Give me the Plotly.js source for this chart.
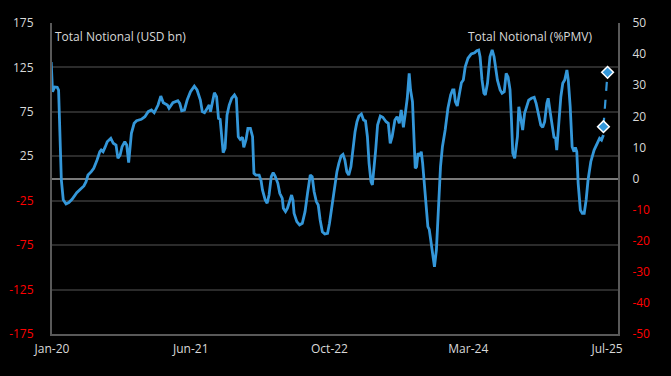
<!DOCTYPE html>
<html>
<head>
<meta charset="utf-8">
<script src="https://cdn.plot.ly/plotly-3.0.1.min.js"></script>
<style>html,body{margin:0;padding:0;background:#000;}#chart{width:671px;height:376px;}</style>
</head>
<body>
<div id="chart"></div>
<script>
// Total Notional (USD bn), weekly-ish readings
const dates = [
"2020-01-12","2020-01-17","2020-01-25","2020-02-03","2020-02-08","2020-02-13","2020-02-18","2020-02-25",
"2020-03-06","2020-03-16","2020-03-28","2020-04-14","2020-04-30","2020-05-10","2020-05-18","2020-05-25",
"2020-06-06","2020-06-15","2020-06-27","2020-07-07","2020-07-12","2020-07-19","2020-07-27","2020-08-03",
"2020-08-16","2020-08-25","2020-09-04","2020-09-11","2020-09-19","2020-09-26","2020-10-06","2020-10-13",
"2020-10-20","2020-10-25","2020-10-30","2020-11-09","2020-11-18","2020-12-05","2020-12-18","2020-12-30",
"2021-01-11","2021-01-21","2021-02-04","2021-02-14","2021-02-23","2021-03-10","2021-03-16","2021-03-30",
"2021-04-17","2021-04-24","2021-05-01","2021-05-11","2021-05-21","2021-06-02","2021-06-16","2021-06-26",
"2021-07-01","2021-07-08","2021-07-15","2021-07-23","2021-08-02","2021-08-09","2021-08-14","2021-08-21",
"2021-08-28","2021-09-05","2021-09-12","2021-09-18","2021-09-24","2021-09-29","2021-10-06","2021-10-13",
"2021-10-21","2021-10-30","2021-11-09","2021-11-16","2021-11-23","2021-11-30","2021-12-08","2021-12-13",
"2021-12-21","2021-12-28","2022-01-06","2022-01-14","2022-01-19","2022-01-26","2022-02-07","2022-02-14",
"2022-02-19","2022-03-01","2022-03-08","2022-03-15","2022-03-23","2022-03-30","2022-04-06","2022-04-16",
"2022-04-23","2022-05-02","2022-05-06","2022-05-14","2022-05-21","2022-05-28","2022-06-05","2022-06-10",
"2022-06-14","2022-06-24","2022-07-04","2022-07-14","2022-07-24","2022-08-02","2022-08-12","2022-08-19",
"2022-08-26","2022-09-03","2022-09-10","2022-09-17","2022-09-25","2022-10-04","2022-10-14","2022-10-21",
"2022-10-31","2022-11-09","2022-11-17","2022-11-24","2022-12-02","2022-12-09","2022-12-16","2022-12-23",
"2022-12-30","2023-01-07","2023-01-14","2023-01-22","2023-01-29","2023-02-05","2023-02-14","2023-02-22",
"2023-03-01","2023-03-08","2023-03-14","2023-03-21","2023-03-26","2023-03-30","2023-04-07","2023-04-14",
"2023-04-24","2023-05-03","2023-05-15","2023-05-23","2023-05-30","2023-06-06","2023-06-16","2023-06-24",
"2023-07-02","2023-07-09","2023-07-17","2023-07-24","2023-07-31","2023-08-07","2023-08-12","2023-08-19",
"2023-08-24","2023-08-29","2023-09-03","2023-09-08","2023-09-15","2023-09-20","2023-09-25","2023-09-30",
"2023-10-07","2023-10-14","2023-10-19","2023-10-26","2023-11-01","2023-11-07","2023-11-14","2023-11-22",
"2023-11-29","2023-12-06","2023-12-16","2023-12-26","2024-01-05","2024-01-12","2024-01-17","2024-01-22",
"2024-01-29","2024-02-05","2024-02-13","2024-02-20","2024-02-27","2024-03-08","2024-03-20","2024-04-01",
"2024-04-09","2024-04-16","2024-04-21","2024-04-28","2024-05-05","2024-05-10","2024-05-18","2024-05-27",
"2024-06-04","2024-06-11","2024-06-16","2024-06-23","2024-07-03","2024-07-10","2024-07-18","2024-07-25",
"2024-08-01","2024-08-08","2024-08-13","2024-08-18","2024-08-25","2024-09-04","2024-09-09","2024-09-16",
"2024-09-23","2024-09-30","2024-10-15","2024-10-25","2024-11-04","2024-11-11","2024-11-18","2024-11-28",
"2024-12-05","2024-12-12","2024-12-20","2024-12-25","2025-01-01","2025-01-08","2025-01-15","2025-01-21",
"2025-01-25","2025-02-02","2025-02-09","2025-02-16","2025-02-23","2025-03-03","2025-03-08","2025-03-15",
"2025-03-22","2025-03-29","2025-04-03","2025-04-08","2025-04-13","2025-04-21","2025-04-28","2025-05-05",
"2025-05-12","2025-05-19","2025-05-29","2025-06-10","2025-06-20","2025-06-30","2025-07-07","2025-07-14"
];
const notional = [
131,97.7,103,102.6,99.6,43,-1.7,-24,
-28.7,-27,-23.4,-16,-11,-8.4,-3.6,4,
7.7,11.5,20.8,30.2,32,30.2,35.8,41.4,
45.2,39.6,37.7,22.7,26.4,35.8,41.4,37.7,
17.8,32,50.9,62.1,65,66.6,69.6,75.2,
77.1,74,82.7,92.8,85.3,82.7,79,85.3,
87.6,84.6,76.3,77.1,88.3,97.7,104,99.6,
94,88.3,75.2,74,79,82.7,75.2,86.4,
96.6,92,67.7,66.6,39.6,29,34,71.5,
82.7,90.3,94,90.3,47,44.1,46.4,35.1,
43.3,56.5,56.5,47,5.9,3.9,3.9,-2.5,
-12.9,-24.2,-27.9,-18.6,2,6.5,2.8,-5.4,
-16.7,-22.3,-33.5,-37.3,-33.5,-26,-18.6,-24.2,
-39.2,-48.6,-52.3,-50.4,-37.3,-16.7,3.9,2,
-14.9,-26,-29.8,-46.7,-59.9,-62.5,-61.7,-50.4,
-27.9,-5.4,7.7,17.1,25.3,27.2,20.8,7.7,
3.9,13.3,34,52.7,63.9,70.3,72.6,65.8,
64.7,47,17.1,-3.6,-7.3,3.9,32,60.2,
70.3,68.9,63.9,62.1,39.6,47,65.8,69.6,
62.1,77.1,57.6,73.4,90.3,118.4,99.6,86.4,
50.9,11.5,13.3,28.4,25.3,30.2,17.1,-1.7,
-27.9,-54.2,-57.2,-72.9,-91.7,-99.3,-80.5,-31.7,
13.3,35.8,54.6,79,94,99.6,99.6,86.4,
81.6,94,107.8,110.9,125.8,135.3,140.1,141.6,
143.8,144.6,137.1,110.9,95.9,94,107.1,137.1,
144.6,137.1,127.7,110.9,99.6,95.9,97.7,118.4,
114,100,68,28.4,22.7,47,80.8,69.6,
54.6,73.4,88.3,90.3,91.4,84.6,73.4,60.2,
57.6,63.9,84.6,90.3,75.2,58.3,46.4,45.2,
32,63.9,92,107.1,110.9,122.1,110.9,80.8,
35.8,30.2,35.1,30.2,-5.4,-35.4,-39.2,-39.2,
-24.2,-1.7,18.9,32,39.6,45.2,43.3,49,58.3
];
// Latest reading and projection (diamonds, dashed)
const projDates = ["2025-07-14","2025-07-29"];
const projValues = [58.3, 119.5];

const xTickVals = ["2020-01-15","2021-06-03","2022-10-21","2024-03-09","2025-07-27"];
const xTickText = ["Jan-20","Jun-21","Oct-22","Mar-24","Jul-25"];
const yTickVals = [-175,-125,-75,-25,25,75,125,175];
const y2TickVals = [-50,-40,-30,-20,-10,0,10,20,30,40,50];

const WHITE = "#d9d9d9", RED = "#ff0000";
const lbl = v => v < 0 ? '<span style="color:' + RED + '">' + v + '</span>' : String(v);

const traces = [
  {x: dates, y: notional, type: "scatter", mode: "lines",
   line: {color: "#3497d9", width: 2.8}, hoverinfo: "skip"},
  {x: projDates, y: projValues, type: "scatter", mode: "lines+markers",
   line: {color: "#3497d9", width: 2.2, dash: "dash"},
   marker: {symbol: "diamond", size: 9, color: "#3497d9", line: {color: "#ffffff", width: 1.5}},
   hoverinfo: "skip"},
  {x: [projDates[0]], y: [0], yaxis: "y2", type: "scatter", mode: "none", showlegend: false, hoverinfo: "skip"}
];

const font = {family: "Open Sans, Noto Sans, sans-serif", size: 12, color: WHITE};
const layout = {
  width: 671, height: 376,
  margin: {l: 52, r: 53, t: 23, b: 42},
  paper_bgcolor: "#000", plot_bgcolor: "#000",
  showlegend: false,
  font: font,
  xaxis: {
    type: "date", range: ["2020-01-15", "2025-09-05"],
    tickmode: "array", tickvals: xTickVals, ticktext: xTickText,
    showgrid: false, zeroline: false, ticks: "",
    showline: true, linecolor: "#595959", linewidth: 2,
    tickfont: font, ticklabelstandoff: 3
  },
  yaxis: {
    range: [-175, 175], tickmode: "array", tickvals: yTickVals,
    ticktext: yTickVals.map(lbl),
    showgrid: true, gridcolor: "#2b2b2b", gridwidth: 2,
    zeroline: true, zerolinecolor: "#7a7a7a", zerolinewidth: 2,
    showline: true, linecolor: "#595959", linewidth: 2,
    ticks: "", tickfont: font, ticklabelstandoff: 14
  },
  yaxis2: {
    range: [-50, 50], overlaying: "y", side: "right",
    tickmode: "array", tickvals: y2TickVals, ticktext: y2TickVals.map(lbl),
    showgrid: false, zeroline: false,
    showline: true, linecolor: "#595959", linewidth: 2,
    ticks: "", tickfont: font, ticklabelstandoff: 10
  },
  annotations: [
    {xref: "paper", yref: "paper", x: 0.0015, y: 0.955, xanchor: "left", yanchor: "middle",
     text: "Total Notional (USD bn)", showarrow: false, font: font},
    {xref: "paper", yref: "paper", x: 0.958, y: 0.955, xanchor: "right", yanchor: "middle",
     text: "Total Notional (%PMV)", showarrow: false, font: font}
  ]
};
Plotly.newPlot("chart", traces, layout, {staticPlot: true, displayModeBar: false});
</script>
</body>
</html>
